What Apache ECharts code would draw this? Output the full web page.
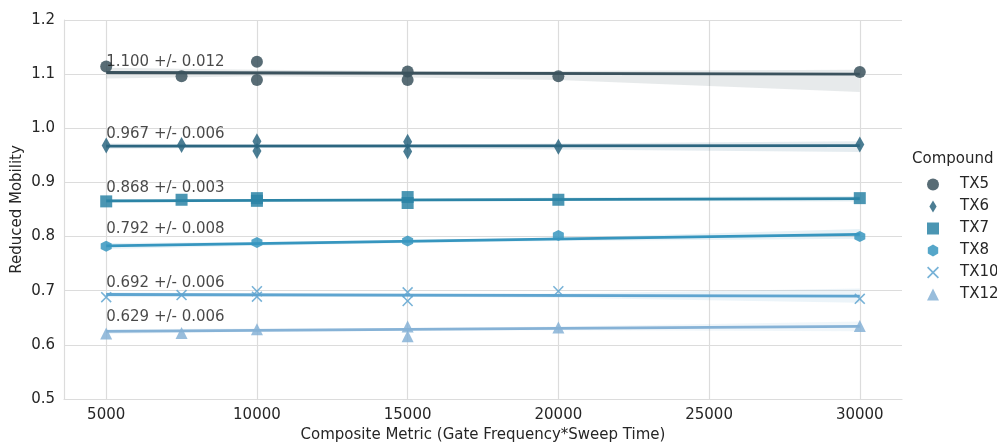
<!DOCTYPE html>
<html lang="en" style="background: #FFFFFF;height: 100%">
<head>
  <meta charset="utf-8" />
  <title>Reduced Mobility vs Composite Metric</title>
  <script src="https://cdn.jsdelivr.net/npm/echarts@6/dist/echarts.min.js"></script>
</head>
<body style="margin: 0;height: 100%">
<div id="chart" style="width: 997px;height: 448px"></div>
<script>
  // compounds and their colours
  const compounds = ['TX5', 'TX6', 'TX7', 'TX8', 'TX10', 'TX12'];
  const colors = ['#3b525d', '#2c6680', '#2c84a6', '#3796bf', '#5fa5d0', '#86b2d6'];

  // measured points [composite metric, reduced mobility]
  const pointsTX5 = [[5000, 1.114], [7500, 1.096], [10000, 1.123], [10000, 1.089], [15000, 1.105], [15000, 1.089], [20000, 1.096], [30000, 1.104]];
  const pointsTX6 = [[5000, 0.968], [7500, 0.969], [10000, 0.976], [10000, 0.958], [15000, 0.975], [15000, 0.957], [20000, 0.966], [30000, 0.970]];
  const pointsTX7 = [[5000, 0.865], [7500, 0.868], [10000, 0.871], [10000, 0.866], [15000, 0.873], [15000, 0.862], [20000, 0.868], [30000, 0.871]];
  const pointsTX8 = [[5000, 0.782], [10000, 0.789], [15000, 0.792], [20000, 0.802], [30000, 0.800]];
  const pointsTX10 = [[5000, 0.688], [7500, 0.692], [10000, 0.699], [10000, 0.689], [15000, 0.697], [15000, 0.681], [20000, 0.699], [30000, 0.685]];
  const pointsTX12 = [[5000, 0.621], [7500, 0.622], [10000, 0.629], [15000, 0.634], [15000, 0.616], [20000, 0.632], [30000, 0.635]];
  const points = [pointsTX5, pointsTX6, pointsTX7, pointsTX8, pointsTX10, pointsTX12];

  // regression fit at x = 5000 and x = 30000
  const fitX = [5000, 30000];
  const fitStart = [1.103, 0.967, 0.866, 0.783, 0.693, 0.625];
  const fitEnd = [1.100, 0.968, 0.870, 0.804, 0.690, 0.634];

  // confidence band edges
  const bandX = [5000, 10000, 15000, 20000, 30000];
  const bandUpper = [
    [1.112, 1.108, 1.106, 1.106, 1.108],
    [0.972, 0.970, 0.970, 0.972, 0.976],
    [0.869, 0.869, 0.870, 0.872, 0.875],
    [0.788, 0.790, 0.793, 0.798, 0.814],
    [0.697, 0.695, 0.694, 0.695, 0.704],
    [0.629, 0.630, 0.631, 0.634, 0.643]
  ];
  const bandLower = [
    [1.092, 1.096, 1.094, 1.089, 1.067],
    [0.962, 0.964, 0.963, 0.961, 0.956],
    [0.862, 0.865, 0.866, 0.866, 0.865],
    [0.777, 0.783, 0.788, 0.792, 0.796],
    [0.688, 0.689, 0.689, 0.687, 0.678],
    [0.620, 0.624, 0.626, 0.627, 0.625]
  ];

  // annotation text
  const means = [1.100, 0.967, 0.868, 0.792, 0.692, 0.629];
  const errors = [0.012, 0.006, 0.003, 0.008, 0.006, 0.006];

  const xTicks = [5000, 10000, 15000, 20000, 25000, 30000];

  const thinDiamond = 'path://M0,-1L0.6,0L0,1L-0.6,0Z';
  const hexagon = 'path://M0,-1L0.866,-0.5L0.866,0.5L0,1L-0.866,0.5L-0.866,-0.5Z';
  const cross = 'path://M-1,-0.8L-0.8,-1L0,-0.2L0.8,-1L1,-0.8L0.2,0L1,0.8L0.8,1L0,0.2L-0.8,1L-1,0.8L-0.2,0Z';
  const symbols = ['circle', thinDiamond, 'rect', hexagon, cross, 'triangle'];
  const sizes = [12, [9, 16], 12, 11, 11, 12];

  const font = 'DejaVu Sans';
  const textColor = '#262626';
  const gridColor = '#dcdcdc';

  const series = [];

  compounds.forEach(function (name, i) {
    const poly = bandX.map(function (x, k) { return [x, bandUpper[i][k]]; })
      .concat(bandX.map(function (x, k) { return [x, bandLower[i][k]]; }).reverse());
    series.push({
      name: name + ' ci',
      type: 'custom',
      silent: true,
      z: 1,
      data: [[bandX[0], bandLower[i][0]]],
      renderItem: function (params, api) {
        return {
          type: 'polygon',
          shape: { points: poly.map(function (p) { return api.coord(p); }) },
          style: { fill: colors[i], opacity: 0.12 }
        };
      }
    });
  });

  compounds.forEach(function (name, i) {
    series.push({
      name: name + ' fit',
      type: 'line',
      z: 2,
      silent: true,
      showSymbol: false,
      data: [[fitX[0], fitStart[i]], [fitX[1], fitEnd[i]]],
      lineStyle: { color: colors[i], width: 2.8 }
    });
  });

  compounds.forEach(function (name, i) {
    series.push({
      name: name,
      type: 'scatter',
      z: 3,
      symbol: symbols[i],
      symbolSize: sizes[i],
      data: points[i],
      itemStyle: { color: colors[i], opacity: 0.85 }
    });
  });

  series.push({
    name: 'labels',
    type: 'scatter',
    z: 4,
    silent: true,
    symbolSize: 0,
    data: means.map(function (m, i) { return [5000, m + 0.022, i]; }),
    label: {
      show: true,
      position: 'right',
      distance: 0,
      fontFamily: font,
      fontSize: 15,
      color: '#1a1a1a',
      formatter: function (p) {
        const i = p.value[2];
        return means[i].toFixed(3) + ' +/- ' + errors[i].toFixed(3);
      }
    }
  });

  const chart = echarts.init(document.getElementById('chart'));
  chart.setOption({
    animation: false,
    backgroundColor: '#ffffff',
    grid: { left: 64, right: 95, top: 20, bottom: 45 },
    xAxis: {
      type: 'value',
      min: 3600,
      max: 31400,
      name: 'Composite Metric (Gate Frequency*Sweep Time)',
      nameLocation: 'middle',
      nameGap: 29,
      nameTextStyle: { fontFamily: font, fontSize: 15, color: textColor },
      axisLine: { show: true, lineStyle: { color: gridColor, width: 1.2 } },
      axisTick: { show: false, customValues: xTicks },
      axisLabel: { customValues: xTicks, margin: 9, fontFamily: font, fontSize: 15, color: textColor,
        formatter: function (v) { return String(v); } },
      splitLine: { show: true, lineStyle: { color: gridColor, width: 1.2 } }
    },
    yAxis: {
      type: 'value',
      min: 0.5,
      max: 1.2,
      interval: 0.1,
      name: 'Reduced Mobility',
      nameLocation: 'middle',
      nameGap: 39,
      nameMoveOverlap: false,
      nameTextStyle: { fontFamily: font, fontSize: 15, color: textColor },
      axisLine: { show: true, lineStyle: { color: gridColor, width: 1.2 } },
      axisTick: { show: false },
      axisLabel: { margin: 9, fontFamily: font, fontSize: 15, color: textColor,
        formatter: function (v) { return v.toFixed(1); } },
      splitLine: { show: true, lineStyle: { color: gridColor, width: 1.2 } }
    },
    legend: {
      data: compounds,
      orient: 'vertical',
      left: 922,
      top: 172,
      itemWidth: 12,
      itemHeight: 12,
      itemGap: 7,
      selectedMode: false,
      textStyle: { fontFamily: font, fontSize: 15, color: textColor, padding: [0, 0, 0, 16] }
    },
    graphic: [{
      type: 'text',
      left: 912,
      top: 152,
      style: { text: 'Compound', font: '15px "DejaVu Sans"', fill: textColor }
    }],
    series: series
  });
</script>
</body>
</html>
